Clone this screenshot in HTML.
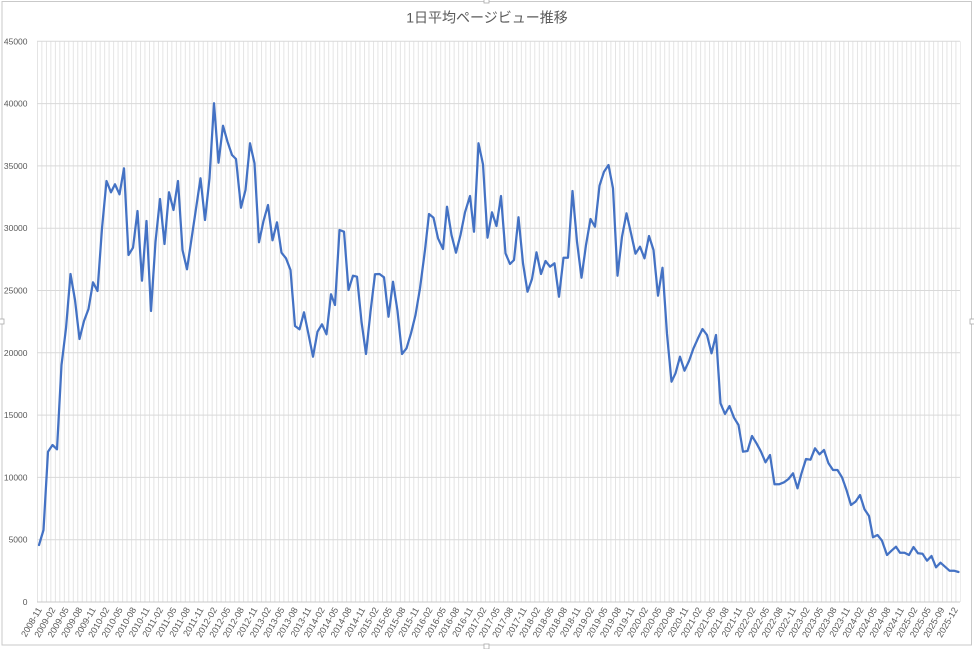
<!DOCTYPE html>
<html>
<head>
<meta charset="utf-8">
<style>
  html,body{margin:0;padding:0;background:#fff;}
  body{width:974px;height:649px;overflow:hidden;}
  svg{display:block;}
  .yl{font-family:"Liberation Sans",sans-serif;font-size:8.5px;fill:#595959;text-anchor:end;}
  .xl{font-family:"Liberation Sans",sans-serif;font-size:9px;fill:#595959;text-anchor:end;}
  .tt{font-family:"Liberation Sans","Noto Sans CJK JP",sans-serif;font-size:14px;fill:#595959;text-anchor:middle;}
</style>
</head>
<body>
<svg width="974" height="649" viewBox="0 0 974 649" xmlns="http://www.w3.org/2000/svg">
  <defs>
    <pattern id="vg" x="37" y="0" width="4.4806" height="649" patternUnits="userSpaceOnUse">
      <rect x="0" y="0" width="0.8" height="649" fill="#dedede"/>
    </pattern>
  </defs>
  <rect x="0" y="0" width="974" height="649" fill="#fff"/>
  <!-- chart border -->
  <rect x="2" y="1.5" width="969.5" height="643.5" fill="none" stroke="#c9c9c9" stroke-width="1"/>
  <!-- handles -->
  <rect x="484" y="-2" width="5" height="5" fill="#fff" stroke="#aaa" stroke-width="0.8"/>
  <rect x="484" y="644" width="5" height="5" fill="#fff" stroke="#aaa" stroke-width="0.8"/>
  <rect x="-1" y="319" width="5" height="5" fill="#fff" stroke="#aaa" stroke-width="0.8"/>
  <rect x="970" y="319" width="5" height="5" fill="#fff" stroke="#aaa" stroke-width="0.8"/>

  <!-- title -->
  <text class="tt" x="487" y="22.5">1日平均ページビュー推移</text>

  <!-- vertical gridlines -->
  <rect x="37" y="41.3" width="923.6" height="560.7" fill="url(#vg)"/>

  <!-- horizontal gridlines -->
  <g stroke="#d9d9d9" stroke-width="1">
    <line x1="37" x2="960" y1="41.3" y2="41.3"/>
    <line x1="37" x2="960" y1="103.6" y2="103.6"/>
    <line x1="37" x2="960" y1="165.9" y2="165.9"/>
    <line x1="37" x2="960" y1="228.2" y2="228.2"/>
    <line x1="37" x2="960" y1="290.5" y2="290.5"/>
    <line x1="37" x2="960" y1="352.8" y2="352.8"/>
    <line x1="37" x2="960" y1="415.1" y2="415.1"/>
    <line x1="37" x2="960" y1="477.4" y2="477.4"/>
    <line x1="37" x2="960" y1="539.7" y2="539.7"/>
  </g>
  <line x1="37" x2="960" y1="602" y2="602" stroke="#c8c8c8" stroke-width="1"/>

  <!-- y labels -->
  <g class="yl">
    <text x="27.5" y="44.3">45000</text>
    <text x="27.5" y="106.6">40000</text>
    <text x="27.5" y="168.9">35000</text>
    <text x="27.5" y="231.2">30000</text>
    <text x="27.5" y="293.5">25000</text>
    <text x="27.5" y="355.8">20000</text>
    <text x="27.5" y="418.1">15000</text>
    <text x="27.5" y="480.4">10000</text>
    <text x="27.5" y="542.7">5000</text>
    <text x="27.5" y="605">0</text>
  </g>

  <!-- x labels -->
  <g class="xl">
    <text transform="translate(39.5,608) rotate(-60)" dy="0.35em">2008-11</text>
    <text transform="translate(52.97,608) rotate(-60)" dy="0.35em">2009-02</text>
    <text transform="translate(66.44,608) rotate(-60)" dy="0.35em">2009-05</text>
    <text transform="translate(79.91,608) rotate(-60)" dy="0.35em">2009-08</text>
    <text transform="translate(93.38,608) rotate(-60)" dy="0.35em">2009-11</text>
    <text transform="translate(106.85,608) rotate(-60)" dy="0.35em">2010-02</text>
    <text transform="translate(120.32,608) rotate(-60)" dy="0.35em">2010-05</text>
    <text transform="translate(133.79,608) rotate(-60)" dy="0.35em">2010-08</text>
    <text transform="translate(147.26,608) rotate(-60)" dy="0.35em">2010-11</text>
    <text transform="translate(160.73,608) rotate(-60)" dy="0.35em">2011-02</text>
    <text transform="translate(174.2,608) rotate(-60)" dy="0.35em">2011-05</text>
    <text transform="translate(187.67,608) rotate(-60)" dy="0.35em">2011-08</text>
    <text transform="translate(201.14,608) rotate(-60)" dy="0.35em">2011-11</text>
    <text transform="translate(214.61,608) rotate(-60)" dy="0.35em">2012-02</text>
    <text transform="translate(228.08,608) rotate(-60)" dy="0.35em">2012-05</text>
    <text transform="translate(241.55,608) rotate(-60)" dy="0.35em">2012-08</text>
    <text transform="translate(255.02,608) rotate(-60)" dy="0.35em">2012-11</text>
    <text transform="translate(268.49,608) rotate(-60)" dy="0.35em">2013-02</text>
    <text transform="translate(281.96,608) rotate(-60)" dy="0.35em">2013-05</text>
    <text transform="translate(295.43,608) rotate(-60)" dy="0.35em">2013-08</text>
    <text transform="translate(308.9,608) rotate(-60)" dy="0.35em">2013-11</text>
    <text transform="translate(322.37,608) rotate(-60)" dy="0.35em">2014-02</text>
    <text transform="translate(335.84,608) rotate(-60)" dy="0.35em">2014-05</text>
    <text transform="translate(349.31,608) rotate(-60)" dy="0.35em">2014-08</text>
    <text transform="translate(362.78,608) rotate(-60)" dy="0.35em">2014-11</text>
    <text transform="translate(376.25,608) rotate(-60)" dy="0.35em">2015-02</text>
    <text transform="translate(389.72,608) rotate(-60)" dy="0.35em">2015-05</text>
    <text transform="translate(403.19,608) rotate(-60)" dy="0.35em">2015-08</text>
    <text transform="translate(416.66,608) rotate(-60)" dy="0.35em">2015-11</text>
    <text transform="translate(430.13,608) rotate(-60)" dy="0.35em">2016-02</text>
    <text transform="translate(443.6,608) rotate(-60)" dy="0.35em">2016-05</text>
    <text transform="translate(457.07,608) rotate(-60)" dy="0.35em">2016-08</text>
    <text transform="translate(470.54,608) rotate(-60)" dy="0.35em">2016-11</text>
    <text transform="translate(484.01,608) rotate(-60)" dy="0.35em">2017-02</text>
    <text transform="translate(497.48,608) rotate(-60)" dy="0.35em">2017-05</text>
    <text transform="translate(510.95,608) rotate(-60)" dy="0.35em">2017-08</text>
    <text transform="translate(524.42,608) rotate(-60)" dy="0.35em">2017-11</text>
    <text transform="translate(537.89,608) rotate(-60)" dy="0.35em">2018-02</text>
    <text transform="translate(551.36,608) rotate(-60)" dy="0.35em">2018-05</text>
    <text transform="translate(564.83,608) rotate(-60)" dy="0.35em">2018-08</text>
    <text transform="translate(578.3,608) rotate(-60)" dy="0.35em">2018-11</text>
    <text transform="translate(591.77,608) rotate(-60)" dy="0.35em">2019-02</text>
    <text transform="translate(605.24,608) rotate(-60)" dy="0.35em">2019-05</text>
    <text transform="translate(618.71,608) rotate(-60)" dy="0.35em">2019-08</text>
    <text transform="translate(632.18,608) rotate(-60)" dy="0.35em">2019-11</text>
    <text transform="translate(645.65,608) rotate(-60)" dy="0.35em">2020-02</text>
    <text transform="translate(659.12,608) rotate(-60)" dy="0.35em">2020-05</text>
    <text transform="translate(672.59,608) rotate(-60)" dy="0.35em">2020-08</text>
    <text transform="translate(686.06,608) rotate(-60)" dy="0.35em">2020-11</text>
    <text transform="translate(699.53,608) rotate(-60)" dy="0.35em">2021-02</text>
    <text transform="translate(713,608) rotate(-60)" dy="0.35em">2021-05</text>
    <text transform="translate(726.47,608) rotate(-60)" dy="0.35em">2021-08</text>
    <text transform="translate(739.94,608) rotate(-60)" dy="0.35em">2021-11</text>
    <text transform="translate(753.41,608) rotate(-60)" dy="0.35em">2022-02</text>
    <text transform="translate(766.88,608) rotate(-60)" dy="0.35em">2022-05</text>
    <text transform="translate(780.35,608) rotate(-60)" dy="0.35em">2022-08</text>
    <text transform="translate(793.82,608) rotate(-60)" dy="0.35em">2022-11</text>
    <text transform="translate(807.29,608) rotate(-60)" dy="0.35em">2023-02</text>
    <text transform="translate(820.76,608) rotate(-60)" dy="0.35em">2023-05</text>
    <text transform="translate(834.23,608) rotate(-60)" dy="0.35em">2023-08</text>
    <text transform="translate(847.7,608) rotate(-60)" dy="0.35em">2023-11</text>
    <text transform="translate(861.17,608) rotate(-60)" dy="0.35em">2024-02</text>
    <text transform="translate(874.64,608) rotate(-60)" dy="0.35em">2024-05</text>
    <text transform="translate(888.11,608) rotate(-60)" dy="0.35em">2024-08</text>
    <text transform="translate(901.58,608) rotate(-60)" dy="0.35em">2024-11</text>
    <text transform="translate(915.05,608) rotate(-60)" dy="0.35em">2025-02</text>
    <text transform="translate(928.52,608) rotate(-60)" dy="0.35em">2025-05</text>
    <text transform="translate(941.99,608) rotate(-60)" dy="0.35em">2025-09</text>
    <text transform="translate(955.46,608) rotate(-60)" dy="0.35em">2025-12</text>
  </g>

  <!-- series -->
  <polyline fill="none" stroke="#4472C4" stroke-width="2.25" stroke-linejoin="round" stroke-linecap="round" points="
39,545 43.5,530 48,451.7 52.5,445 57,449.3 61.5,365 66,328.3 70.5,274 75,300 79.5,339 84,321 88.5,309 93,282.3 97.5,291 102,228.3 106.5,181 111,192.3 115,184.3 119.5,194.3 124,168.3 128.5,255 133,247.7 137.5,211 142,280.7 146.5,221 151,311 155.5,241.7 160,199 164.5,244 169,192.3 173.5,210 178,181 182.5,250 187,269.3
200.5,178.3 205,220 209.5,178.3 214,103.3 218.5,162.7 223,125.7 227.5,141.7 232,155 236,159 241,207.7 245.5,190 250,143.3 254.5,163.3 259,242.3 263.5,221 268,205 272.5,240.3 277,222.3 281.5,252.7 286,258.3 290.5,270 295,326 299.5,329.3 304,312.3 308.5,334.3 313,356.7 317.5,331.7 322,324.3 326.5,334.3 331,294.3 335,305 339.5,230 344,231.7
348.5,290 353,275.7 357,276.7 361.5,321.7 366,354 370.5,311.7 375,274.3 379.5,274 384,277.3 388.5,316.7 393,281.7 397.5,311 402,354 406.5,348.3 411,333.3 415.5,315 420,288.3 425,250 429,214 433.5,217.7 438,238.3 443,249 447,206.7 451.5,235 456,252.7 460.5,235 465,212.3 470,196 474,231.7 478.5,143.3 483,164.3 487.5,237.7 492,212.3
496.5,226 501,196 505.5,253.3 510,264 514,260 518.5,217.3 523,263.3 527.5,291.7 532,279 536.5,252.3 541,274 545.5,261 550,266.7 554.5,263.3 559,296.7 563.5,257.7 568,257.7 572.5,191 577,241.7 581.5,277.7 586,245 590.5,219 595,226.7 599.5,185.7 604,171.7 608.5,165 613,188.3 617.5,275.7 622,236.7 626.5,213.3 631,233.3 635.5,253.7 640,246.7 644.5,258.3
649,236 653.5,250 658,295.7 662.5,267.7 667,334 671.5,381.7 675.5,373.3 680,356.7 684.5,370.7 689,361 693.5,348.3 698,338.3 702.5,329 707,335 711.5,353.3 716,335 720.5,403.3 725,414 729.5,406 734,417.7 738.5,425 743,451.7 747.5,451 752,436 756.5,443.3 761,451.7 765.5,462.3 770,455 774.5,484.3 779,484.3 784,482.3 788.5,479 793,473.3 797.5,488.3
801.5,473.3 806,459 810.5,459.7 815,448.3 819.5,454.3 824,450 828.5,463.3 833,470 837.5,470 842,477.3 846.5,490 851,505 855.5,501.7 860,495 864.5,509.3 869,516 873,537.3 877.5,535 882,540.7 887,555 891.5,550.7 896,546.7 900,552.7 904.5,552.7 909,555 913.5,547 918,553.3 922.5,553.7 927,560.7 931.5,556 936,567.3 940.5,562.7 945,566.7 949.5,570.7 954,570.7 958.5,572"/>
</svg>
</body>
</html>
